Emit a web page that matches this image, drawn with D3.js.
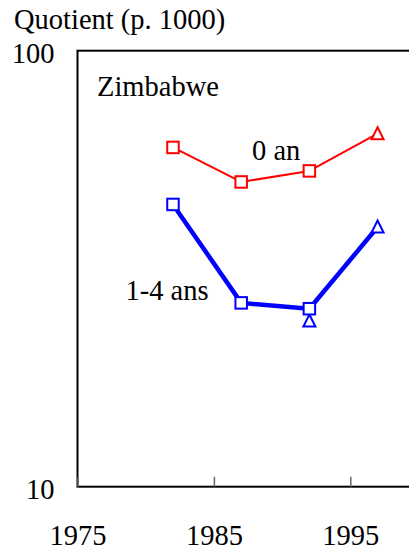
<!DOCTYPE html>
<html>
<head>
<meta charset="utf-8">
<script src="https://cdn.jsdelivr.net/npm/d3@7/dist/d3.min.js"></script>
<style>
  html, body { margin: 0; padding: 0; background: #fff; }
  svg { display: block; }
</style>
</head>
<body>
<svg id="chart" width="409" height="549"></svg>
<script>
// Zimbabwe: mortality quotients (per 1000), log scale
const yearTicks = [1975, 1985, 1995];
const valueTicks = [10, 100];

// Squares: survey estimates, triangles: later estimates
const squareYears = [1982, 1987, 1992];
const infantSquares = [60, 50, 53];          // 0 an
const childSquares = [44.4, 26.4, 25.6];     // 1-4 ans

const infantTriYears = [1997];
const infantTriangles = [64.5];
const childTriYears = [1992, 1997];
const childTriangles = [24, 39.4];

const serif = '"Liberation Serif", "Times New Roman", Times, serif';
const fontPx = "28.5px";

const svg = d3.select("#chart");
const plotLeft = 77.5, plotRight = 418.5, plotTop = 50.7, plotBottom = 486.7;

const x = d3.scaleLinear().domain([1975, 2000]).range([plotLeft, plotRight]);
const y = d3.scaleLog().domain([10, 100]).range([plotBottom, plotTop]);

// Plot frame
svg.append("rect")
  .attr("x", plotLeft).attr("y", plotTop)
  .attr("width", plotRight - plotLeft).attr("height", plotBottom - plotTop)
  .attr("fill", "none").attr("stroke", "#000").attr("stroke-width", 2);

// Bottom axis: inward ticks, labels well below the frame
const xAxis = svg.append("g")
  .attr("transform", `translate(0,${plotBottom})`)
  .call(d3.axisBottom(x).tickValues(yearTicks).tickFormat(d3.format("d"))
    .tickSize(-10).tickPadding(38.3));
xAxis.select(".domain").remove();
xAxis.selectAll(".tick line").attr("stroke", "#666").attr("stroke-width", 1.5);
xAxis.selectAll("text").style("font-family", serif).style("font-size", fontPx);

// Left axis: only the decade labels
const yAxis = svg.append("g")
  .attr("transform", `translate(${plotLeft},0)`)
  .call(d3.axisLeft(y).tickValues(valueTicks).tickFormat(d3.format("d"))
    .tickSize(0).tickPadding(23));
yAxis.select(".domain").remove();
yAxis.selectAll("text").style("font-family", serif).style("font-size", fontPx)
  .attr("dy", "0.41em");

// Titles and series labels
function label(tx, ty, str) {
  svg.append("text").attr("x", tx).attr("y", ty)
    .style("font-family", serif).style("font-size", fontPx)
    .attr("fill", "#000")
    .text(str);
}
label(14, 29.3, "Quotient (p. 1000)");
label(97, 95.7, "Zimbabwe");
label(252, 160, "0 an");
label(125.5, 300, "1-4 ans");

const line = d3.line().x(d => x(d[0])).y(d => y(d[1]));

function series(years, vals, extraYears, extraVals, color, width) {
  const pts = years.map((yr, i) => [yr, vals[i]]);
  const lastYear = extraYears[extraYears.length - 1];
  pts.push([lastYear, extraVals[extraVals.length - 1]]);
  svg.append("path").datum(pts)
    .attr("d", line).attr("fill", "none")
    .attr("stroke", color).attr("stroke-width", width)
    .attr("stroke-linejoin", "round");
}

series(squareYears, infantSquares, infantTriYears, infantTriangles, "#ff0000", 2);
series(squareYears, childSquares, childTriYears, childTriangles, "#0000ff", 4.5);

function squares(years, vals, color) {
  svg.append("g").selectAll("rect")
    .data(years.map((yr, i) => [yr, vals[i]]))
    .join("rect")
    .attr("x", d => x(d[0]) - 5.75).attr("y", d => y(d[1]) - 5.75)
    .attr("width", 11.5).attr("height", 11.5)
    .attr("fill", "#fff").attr("stroke", color).attr("stroke-width", 2);
}

function triangles(years, vals, color) {
  svg.append("g").selectAll("path")
    .data(years.map((yr, i) => [yr, vals[i]]))
    .join("path")
    .attr("d", d => {
      const cx = x(d[0]), cy = y(d[1]);
      return `M${cx},${cy - 6.5}L${cx + 6},${cy + 5.5}L${cx - 6},${cy + 5.5}Z`;
    })
    .attr("fill", "#fff").attr("stroke", color).attr("stroke-width", 2);
}

squares(squareYears, infantSquares, "#ff0000");
triangles(infantTriYears, infantTriangles, "#ff0000");
triangles(childTriYears, childTriangles, "#0000ff");
squares(squareYears, childSquares, "#0000ff");
</script>
</body>
</html>
